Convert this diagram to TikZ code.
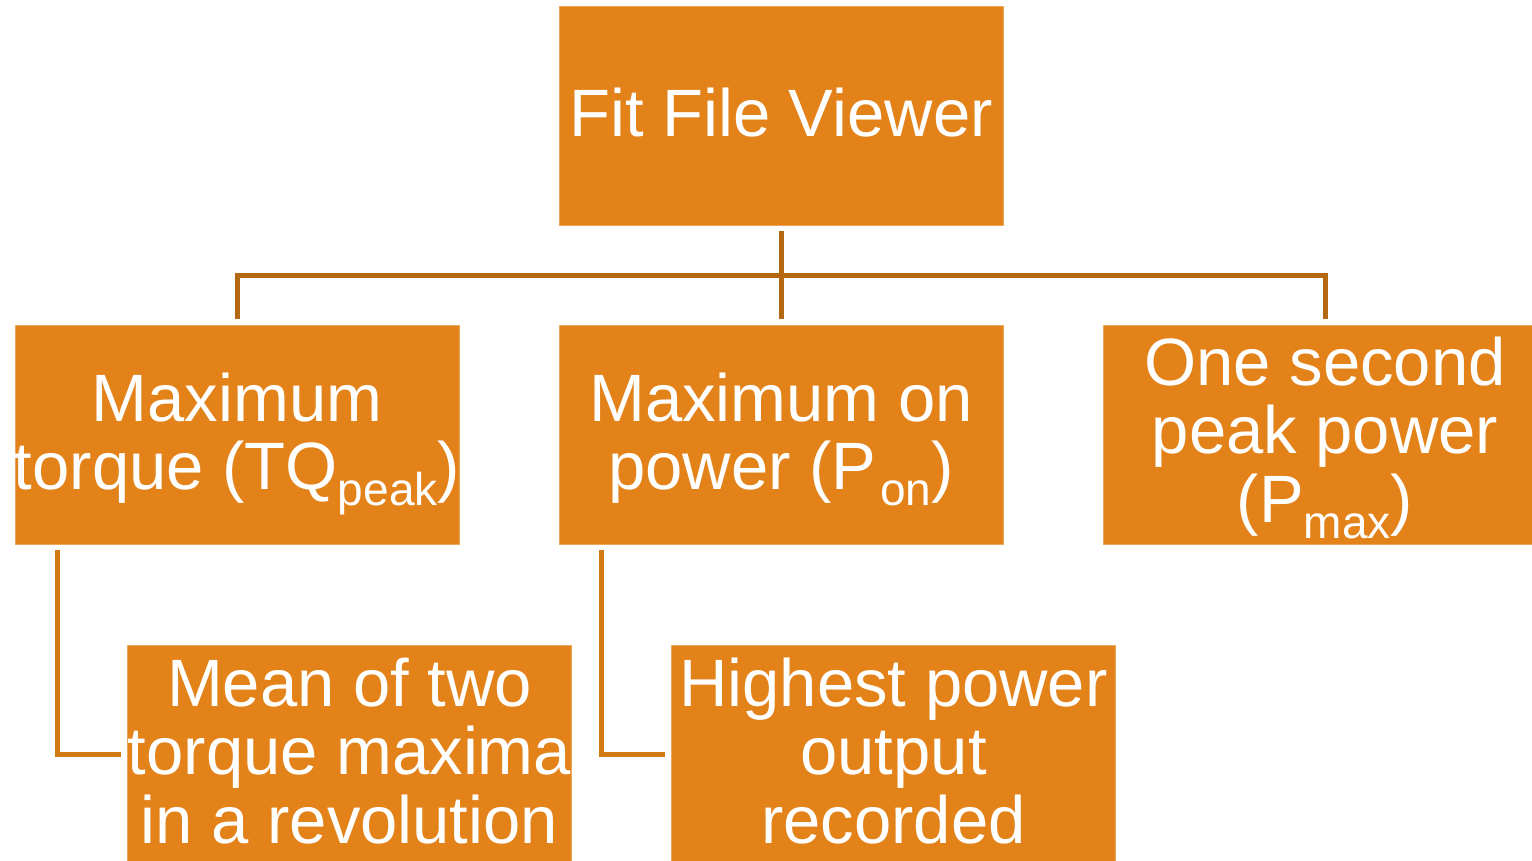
\documentclass[tikz,border=0pt]{standalone}
\usepackage{fontspec}
\setmainfont{Liberation Sans}
\usetikzlibrary{calc}
\definecolor{boxfill}{HTML}{E4821A}
\definecolor{boxline}{HTML}{EDA55C}
\definecolor{topconn}{HTML}{B5680F}
\definecolor{lowconn}{HTML}{D27A14}
\newcommand{\sbs}[1]{\raisebox{-16pt}{\fontsize{46}{46}\selectfont #1}}
\tikzset{
  orgbox/.style={rectangle, fill=boxfill, draw=boxline, line width=0.8pt,
    minimum width=444pt, minimum height=219pt, inner sep=0pt},
  txt/.style={anchor=north, inner sep=0pt, text=white, align=center,
    font=\fontsize{67}{68.5}\selectfont},
  conn/.style={draw=topconn, line width=5pt},
  conn2/.style={draw=lowconn, line width=5pt},
}
\begin{document}
\begin{tikzpicture}[x=1pt,y=-1pt]
\useasboundingbox (0,0) rectangle (1532,860);
\clip (0,0) rectangle (1532,860);
\node[orgbox] (root) at (781,115.5) {};
\node[orgbox] (tq) at (237,434.5) {};
\node[orgbox] (pon) at (781,434.5) {};
\node[orgbox] (pmax) at (1325,434.5) {};
\node[orgbox] (mean) at (349.5,754.5) {};
\node[orgbox] (high) at (893.5,754.5) {};
\node[txt] (troot) at ([yshift=-82pt]root.north) {Fit File Viewer};
\node[txt] (ttq) at ([yshift=-48pt]tq.north) {Maximum\\torque (TQ\sbs{peak})};
\node[txt] (tpon) at ([yshift=-48pt]pon.north) {Maximum on\\power (P\kern4pt\sbs{on})};
\node[txt] (tpmax) at ([yshift=-12pt]pmax.north) {One second\\peak power\\(P\sbs{max})};
\node[txt] (tmean) at ([yshift=-13pt]mean.north) {Mean of two\\torque maxima\\in a revolution};
\node[txt] (thigh) at ([yshift=-13pt]high.north) {Highest power\\output\\recorded};
\draw[conn] ([yshift=-6pt]root.south) -- ([yshift=6pt]pon.north);
\draw[conn] ([yshift=6pt]tq.north) |- ($(root.south)!0.5!(pon.north)$) -| ([yshift=6pt]pmax.north);
\draw[conn2] ([shift={(43pt,-6pt)}]tq.south west) |- ([xshift=-6pt]mean.west);
\draw[conn2] ([shift={(43pt,-6pt)}]pon.south west) |- ([xshift=-6pt]high.west);
\end{tikzpicture}
\end{document}
